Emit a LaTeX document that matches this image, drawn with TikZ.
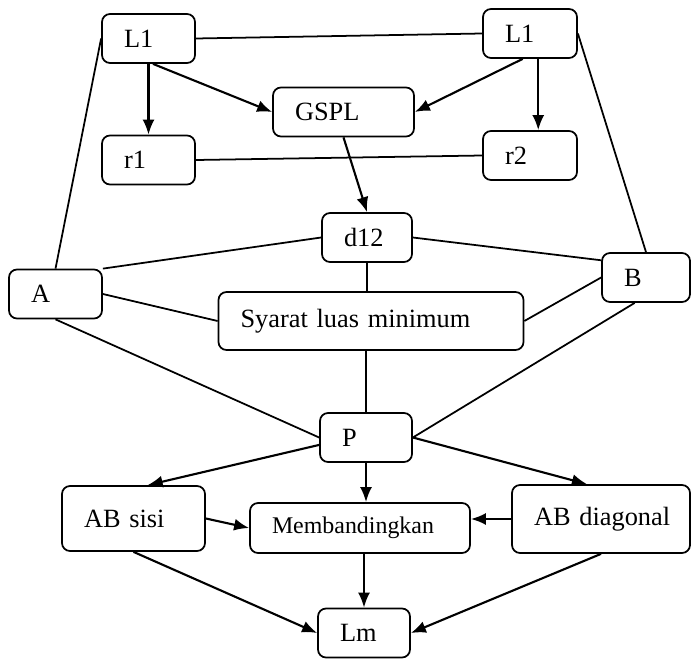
\documentclass[tikz,border=0pt]{standalone}
\usepackage{fontspec}
\setmainfont{Liberation Serif}
\usetikzlibrary{arrows.meta}

\begin{document}
\begin{tikzpicture}[box node/.style={draw,rounded corners=0.16cm,line width=1pt,inner xsep=0.44cm,inner ysep=0pt,minimum height=0.98cm,align=left,font=\fontsize{15}{18}\selectfont},arrow line/.style={line width=1.2pt,-{Latex[length=0.3cm,width=0.24cm]}}]
		\useasboundingbox (0,0) rectangle (13.82,13.18);
		\node[box node,text width=0.98cm] (L1a) at (2.97,12.41) {L1};
		\node[box node,text width=1cm] (L1b) at (10.6,12.51) {L1};
		\node[box node,text width=0.98cm] (r1) at (2.97,9.98) {r1};
		\node[box node,text width=1cm] (r2) at (10.6,10.07) {r2};
		\node[box node,text width=1.94cm] (gspl) at (6.87,10.94) {GSPL};
		\node[box node,text width=0.92cm] (d12) at (7.34,8.43) {d12};
		\node[box node,text width=0.98cm] (A) at (1.11,7.30) {A};
		\node[box node,text width=0.88cm] (B) at (12.92,7.63) {B};
		\node[box node,text width=5.22cm,minimum height=1.16cm] (syarat) at (7.42,6.76) {Syarat luas minimum};
		\node[box node,text width=0.96cm] (P) at (7.32,4.43) {P};
		\node[box node,text width=1.98cm,minimum height=1.3cm] (sisi) at (2.67,2.81) {AB sisi};
		\node[box node,text width=3.52cm,minimum height=1cm,font=\fontsize{13.6}{16}\selectfont] (banding) at (7.2,2.62) {Membandingkan};
		\node[box node,text width=2.68cm,minimum height=1.36cm] (diag) at (12.02,2.80) {\mbox{AB diagonal}};
		\node[box node,text width=0.96cm] (Lm) at (7.28,0.52) {Lm};
		\path[line width=1pt]
		(L1a.east) edge (L1b.west)
		(L1a.west) edge (A.north)
		(L1b.east) edge (B.north)
		(r1.east) edge (r2.west)
		(d12.south) edge (d12.south |- syarat.north)
		(P.north |- syarat.south) edge (P.north)
		(A.north east) edge (d12.west)
		(A.east) edge (syarat.west)
		(A.south) edge (P.west)
		(d12.east) edge (B.159)
		(syarat.east) edge (B.west)
		(B.-114) edge (P.east);
		\path[arrow line]
		(L1a.south) edge (r1.north)
		(L1a.-80) edge (gspl.west)
		(L1b.-106) edge (gspl.east)
		(L1b.-72) edge (L1b.-72 |- r2.north)
		(gspl.south) edge (d12.north)
		(P.189) edge (sisi.67)
		(P.south) edge (P.south |- banding.north)
		(P.east) edge (diag.112)
		(sisi.east) edge (banding.west)
		(diag.west) edge (diag.west -| banding.east)
		(Lm.north |- banding.south) edge (Lm.north)
		(sisi.south) edge (Lm.west)
		(diag.south) edge (Lm.east);
		\end{tikzpicture}
\end{document}
